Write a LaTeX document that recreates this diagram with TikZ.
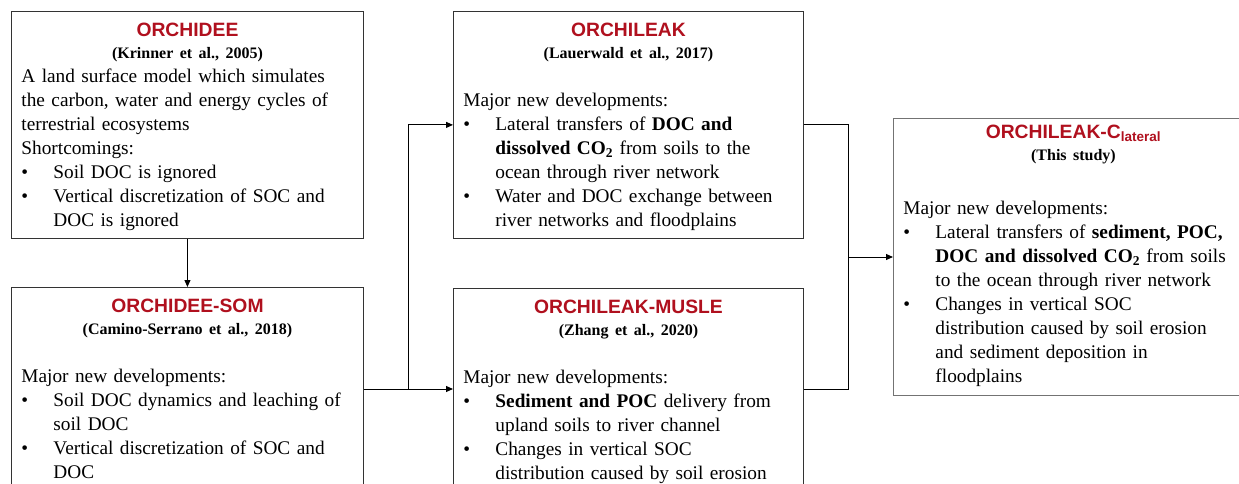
\documentclass[tikz,border=0pt]{standalone}
\usepackage{fontspec}
\setmainfont{Liberation Serif}
\newfontfamily\hdfont{Liberation Sans}
\usetikzlibrary{arrows.meta,positioning}
\definecolor{orred}{HTML}{B0101E}
% header line: model name and reference
\newcommand{\hdr}[3][0pt]{\makebox[\linewidth]{\strut\hdfont\bfseries\color{orred}#2}\\[-2pt]%
  \makebox[\linewidth]{\fontsize{16}{20}\selectfont\bfseries #3}\\[#1]}
% bullet item, hanging indent, lines broken with \newline
\newcommand{\itm}[1]{\par\noindent\hangindent=32pt\hangafter=1\relax
  \makebox[32pt][l]{\textbullet}#1\par}
\tikzset{
  modelbox/.style={draw=black!80,line width=0.9pt,anchor=north west,text width=#1,
    inner xsep=10pt,inner ysep=8pt,align=left,font=\fontsize{19.3}{24}\selectfont},
  link/.style={line width=1pt,black}
}
\begin{document}
\begin{tikzpicture}[x=1pt,y=-1pt,>={Triangle[length=7pt,width=6pt]}]
\useasboundingbox (0,0) rectangle (1239,484);
\node[modelbox=332pt] (orchidee) at (11,11) {\hdr{ORCHIDEE}{(Krinner et al., 2005)}
A land surface model which simulates\\
the carbon, water and energy cycles of\\
terrestrial ecosystems\\
Shortcomings:
\itm{Soil DOC is ignored}
\itm{Vertical discretization of SOC and\newline DOC is ignored}};
\node[modelbox=332pt,text depth=240pt] (som) at (11,287) {\hdr{ORCHIDEE-SOM}{(Camino-Serrano et al., 2018)}
\mbox{}\\
Major new developments:
\itm{Soil DOC dynamics and leaching of\newline soil DOC}
\itm{Vertical discretization of SOC and\newline DOC}};
\node[modelbox=330pt] (leak) at (453,11) {\hdr{ORCHILEAK}{(Lauerwald et al., 2017)}
\mbox{}\\
Major new developments:
\itm{Lateral transfers of \textbf{DOC and\newline dissolved CO\textsubscript{2}} from soils to the\newline ocean through river network}
\itm{Water and DOC exchange between\newline river networks and floodplains}};
\node[modelbox=330pt,text depth=240pt] (musle) at (453,288) {\hdr{ORCHILEAK-MUSLE}{(Zhang et al., 2020)}
\mbox{}\\
Major new developments:
\itm{\textbf{Sediment and POC} delivery from\newline upland soils to river channel}
\itm{Changes in vertical SOC\newline distribution caused by soil erosion}};
\node[modelbox=340pt,draw=black!55,inner ysep=3pt,text depth=254pt] (clat) at (893,118) {\hdr[6pt]{ORCHILEAK-C\textsubscript{lateral}}{(This study)}
\mbox{}\\
Major new developments:
\itm{Lateral transfers of \textbf{sediment, POC,\newline DOC and dissolved CO\textsubscript{2}} from soils\newline to the ocean through river network}
\itm{Changes in vertical SOC\newline distribution caused by soil erosion\newline and sediment deposition in\newline floodplains}};
% connectors
\coordinate (split) at (408,389);
\coordinate (merge) at (848,257);
\draw[link,->] (orchidee.south) -- (som.north);
\draw[link] (split -| som.east) -- (split);
\draw[link,->] (split) |- (leak.west);
\draw[link,->] (split) -- (split -| musle.west);
\draw[link] (leak.east) -| (merge);
\draw[link] (split -| musle.east) -| (merge);
\draw[link,->] (merge) -- (merge -| clat.west);
\end{tikzpicture}
\end{document}
